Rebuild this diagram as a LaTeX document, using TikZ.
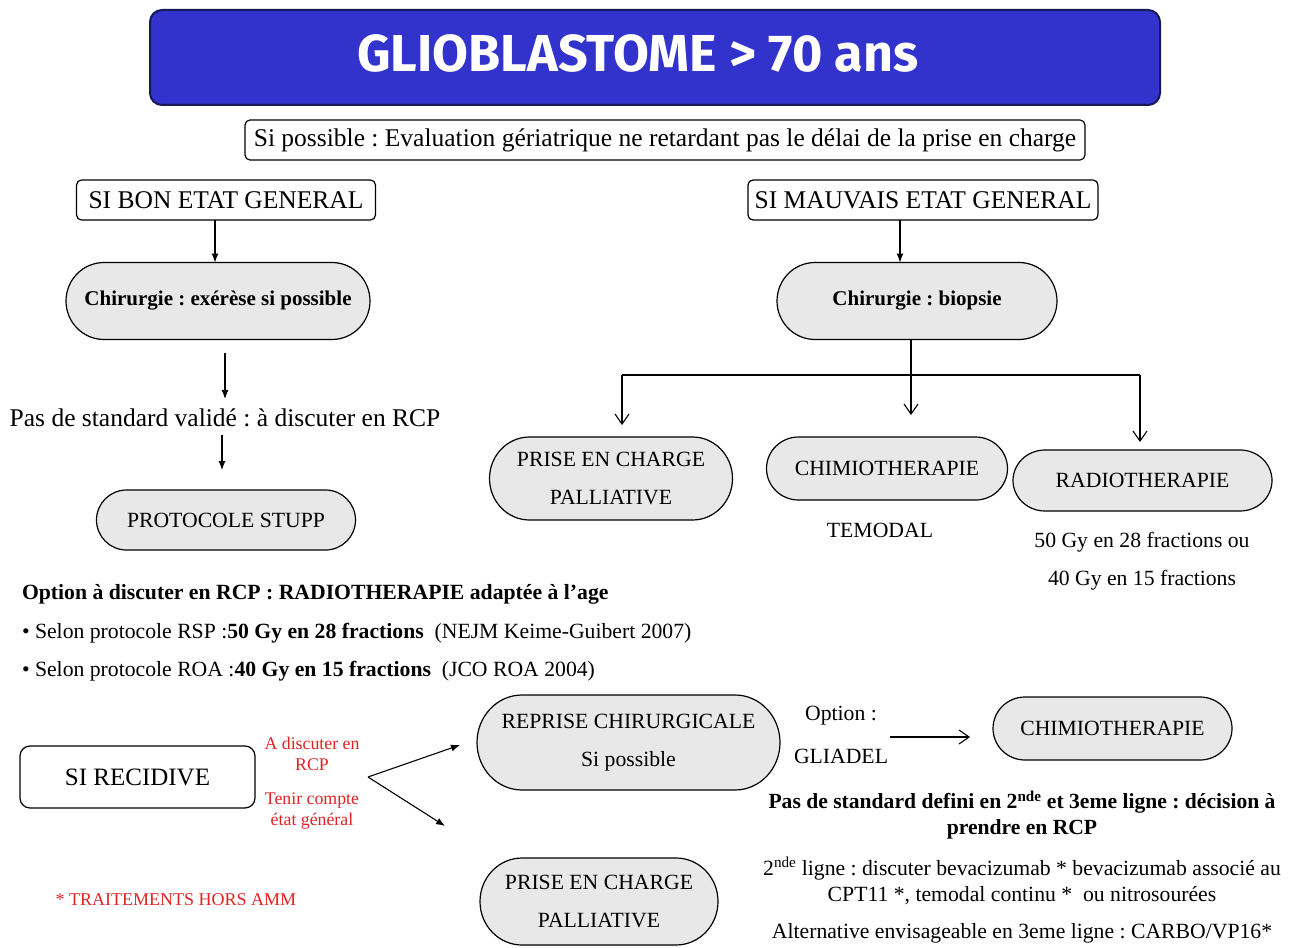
\documentclass[tikz,border=0pt]{standalone}
\usepackage{fontspec}
\setmainfont{Liberation Serif}
\newfontfamily\titlefont{Fira Sans}
\usetikzlibrary{arrows.meta,backgrounds}
\definecolor{titleblue}{RGB}{50,50,205}
\definecolor{titleedge}{RGB}{25,25,90}
\definecolor{redtxt}{RGB}{225,35,35}
\definecolor{boxfill}{RGB}{232,232,232}
\frenchspacing
\newcommand\mystad[3]{% node name, x radius, y radius
  \begin{scope}[on background layer]
  \draw[line width=1.2pt, fill=boxfill] ([xshift=#2]#1.north west) -- ([xshift=-#2]#1.north east)
     arc[start angle=90, end angle=-90, x radius=#2, y radius=#3]
     -- ([xshift=#2]#1.south west)
     arc[start angle=270, end angle=90, x radius=#2, y radius=#3] -- cycle;
  \end{scope}}
\begin{document}
\begin{tikzpicture}[x=1pt,y=-1pt,
  every node/.style={inner sep=0pt, outer sep=0pt, align=center},
  plain/.style={draw, line width=1.2pt, rounded corners=5pt, fill=white},
  stad/.style={},
  fl/.style={-{Latex[length=9pt,width=7pt]}, line width=1.1pt},
  vl/.style={-{Straight Barb[length=10pt,width=14pt]}, line width=1.1pt},
  big/.style={font=\fontsize{25.5}{30}\selectfont},
  mid/.style={font=\fontsize{21.7}{38.5}\selectfont},
  midb/.style={font=\bfseries\fontsize{21}{26}\selectfont},
  redt/.style={text=redtxt, font=\fontsize{17.8}{21}\selectfont},
  small/.style={font=\fontsize{21.7}{26}\selectfont},
]
\useasboundingbox (0,0) rectangle (1300,947);
% title
\node[draw=titleedge, line width=2pt, fill=titleblue, rounded corners=12pt,
      minimum width=1010pt, minimum height=95pt] (titlebox) at (655,57.5) {};
\node[text=white, font=\titlefont\bfseries\fontsize{52}{52}\selectfont] (title) at (638,53) {GLIOBLASTOME > 70 ans};
\node[plain, minimum width=840pt, minimum height=40pt, big] (eval) at (665,140)
  {Si possible : Evaluation gériatrique ne retardant pas le délai de la prise en charge};
\node[plain, minimum width=299pt, minimum height=40pt, big] (bon) at (226,200) {SI BON ETAT GENERAL};
\node[plain, minimum width=350pt, minimum height=40pt, big] (mauv) at (923,200) {SI MAUVAIS ETAT GENERAL};
% left branch
\node[stad, minimum width=304pt, minimum height=77pt, midb] (chir1) at (218,301) {Chirurgie : exérèse si possible};
\mystad{chir1}{38pt}{38.5pt}
\node[big] (pas) at (225,418) {Pas de standard validé : à discuter en RCP};
\node[stad, minimum width=259pt, minimum height=60pt, mid] (stupp) at (226,520) {PROTOCOLE STUPP};
\mystad{stupp}{30pt}{30pt}
\draw[fl, shorten <=13pt] (chir1.south -| pas.north) -- ([yshift=10pt]pas.north);
\draw[fl, shorten <=8pt, shorten >=20pt] ([xshift=-3pt]pas.south) -- ([xshift=-4pt]stupp.north);
\draw[fl] ([xshift=-11pt]bon.south) -- ([xshift=-3pt]chir1.north);
\node[anchor=west, font=\bfseries\fontsize{21.7}{26}\selectfont] (opt) at (22,594) {Option à discuter en RCP : RADIOTHERAPIE adaptée à l’age};
\node[anchor=west, small] (b1) at (22,633) {• Selon protocole RSP :\textbf{50 Gy en 28 fractions}\ \ (NEJM Keime-Guibert 2007)};
\node[anchor=west, small] (b2) at (22,671) {• Selon protocole ROA :\textbf{40 Gy en 15 fractions}\ \ (JCO ROA 2004)};
% right branch
\node[stad, minimum width=280pt, minimum height=77pt, midb] (chir2) at (917,301) {Chirurgie : biopsie};
\mystad{chir2}{38pt}{38.5pt}
\draw[fl] ([xshift=-23pt]mauv.south) -- ([xshift=-17pt]chir2.north);
\node[stad, minimum width=243pt, minimum height=83pt, mid] (pall1) at (611,478.5) {PRISE EN CHARGE\\PALLIATIVE};
\mystad{pall1}{40pt}{41.5pt}
\node[stad, minimum width=241pt, minimum height=63pt, mid] (chimio1) at (887,468.5) {CHIMIOTHERAPIE};
\mystad{chimio1}{32pt}{31.5pt}
\node[stad, minimum width=259pt, minimum height=61pt, mid] (radio1) at (1142.5,480.5) {RADIOTHERAPIE};
\mystad{radio1}{32pt}{30.5pt}
\node[mid] (temodal) at (880,530) {TEMODAL};
\node[mid] (gy) at (1142,561) {50 Gy en 28 fractions ou\\40 Gy en 15 fractions};
\coordinate (br) at (911,375);
\coordinate (bl) at (622,375);
\coordinate (brr) at (1140,375);
\draw[line width=1.1pt] (chir2.south -| br) -- (br);
\draw[line width=1.1pt] (bl) -- (brr);
\draw[vl] (bl) -- ([yshift=12pt]pall1.north -| bl);
\draw[vl] (br) -- ([yshift=22pt]chimio1.north -| br);
\draw[vl] (brr) -- ([yshift=8pt]radio1.north -| brr);
% recidive
\node[plain, rounded corners=10pt, minimum width=235pt, minimum height=62pt, font=\fontsize{25}{30}\selectfont] (recid) at (137.5,777) {SI RECIDIVE};
\node[redt] (red1) at (312,754) {A discuter en\\RCP};
\node[redt] (red2) at (312,811) {Tenir compte\\état général};
\node[stad, minimum width=303pt, minimum height=95pt, mid] (reprise) at (628.5,742.5) {REPRISE CHIRURGICALE\\Si possible};
\mystad{reprise}{45pt}{47.5pt}
\node[stad, minimum width=238pt, minimum height=87pt, mid] (pall2) at (599,901.5) {PRISE EN CHARGE\\PALLIATIVE};
\mystad{pall2}{42pt}{43.5pt}
\coordinate (fork) at (368,777);
\coordinate (t1) at (460,745);
\coordinate (t2) at (445,826);
\draw[fl] (fork) -- (t1);
\draw[fl] (fork) -- (t2);
\node[mid] (optn) at (841,716) {Option :};
\node[mid] (gliadel) at (841,756) {GLIADEL};
\node[stad, minimum width=239pt, minimum height=63pt, mid] (chimio2) at (1112.5,728.5) {CHIMIOTHERAPIE};
\mystad{chimio2}{32pt}{31.5pt}
\coordinate (o1) at (890,737);
\draw[vl, shorten >=23pt] (o1) -- (o1 -| chimio2.west);
\node[font=\bfseries\fontsize{21.6}{26}\selectfont] (pasdef) at (1022,815) {Pas de standard defini en 2\textsuperscript{nde} et 3eme ligne : décision à\\prendre en RCP};
\node[small] (l2) at (1022,881) {2\textsuperscript{nde} ligne : discuter bevacizumab * bevacizumab associé au\\CPT11 *, temodal continu *\ \ ou nitrosourées};
\node[small] (alt) at (1022,933) {Alternative envisageable en 3eme ligne : CARBO/VP16*};
\node[redt, font=\fontsize{18}{20}\selectfont] (hors) at (176,900) {* TRAITEMENTS HORS AMM};
\end{tikzpicture}
\end{document}
